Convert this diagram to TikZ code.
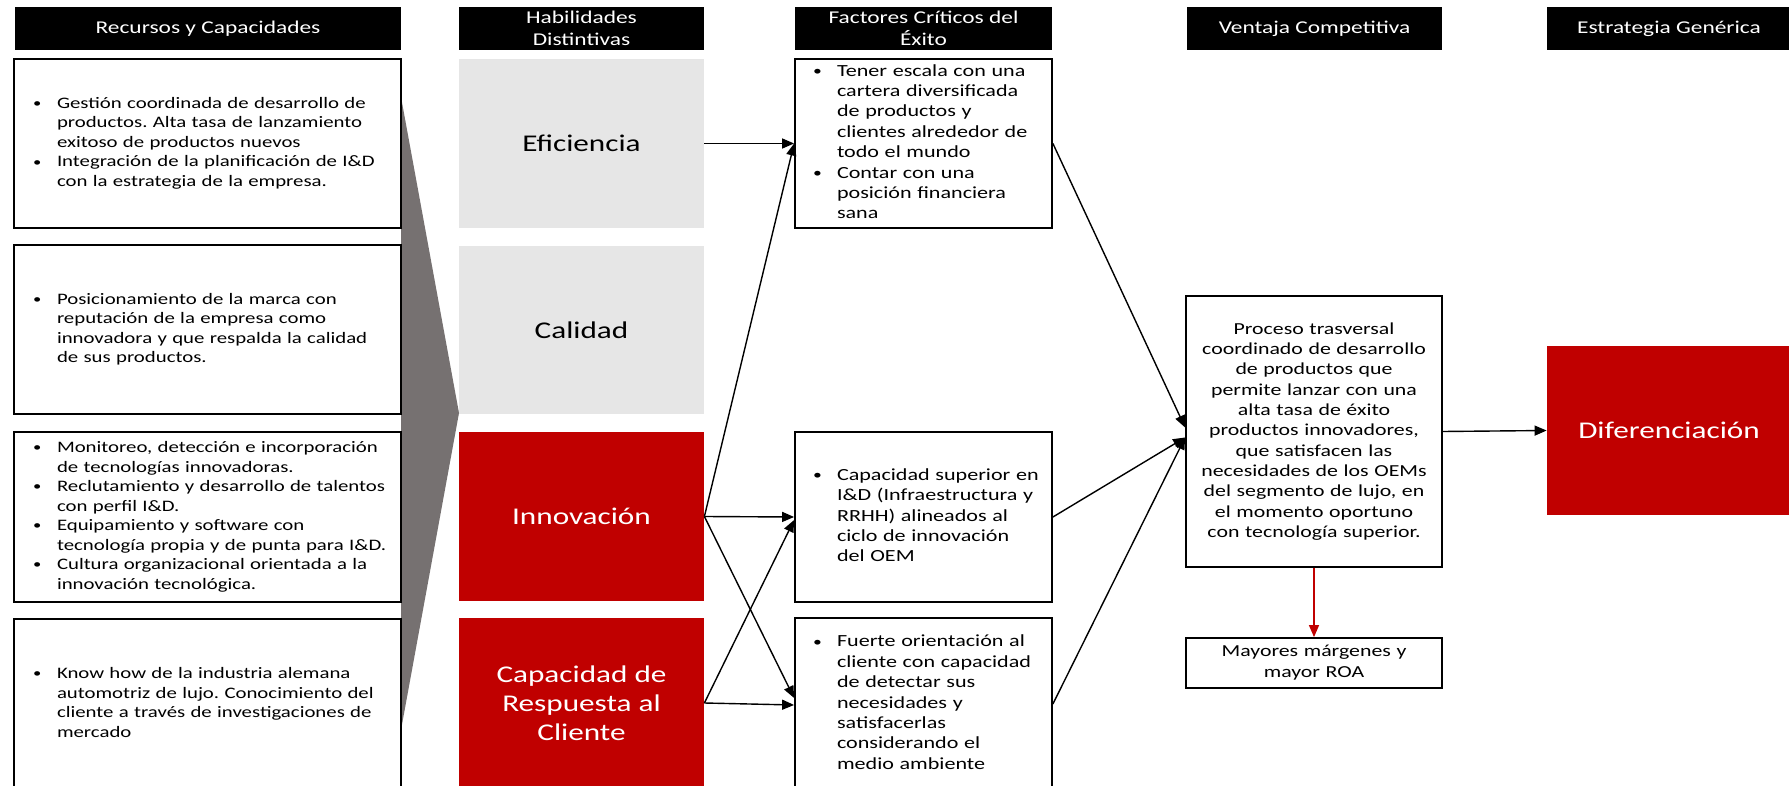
\documentclass[tikz,border=0pt]{standalone}
\usepackage{fontspec}
\setmainfont{Carlito}[FakeStretch=1.3]
\usetikzlibrary{arrows.meta}
\frenchspacing
\definecolor{hdred}{HTML}{C00000}
\definecolor{lightgr}{HTML}{E6E6E6}
\definecolor{darkgr}{HTML}{767171}
% bullets with a fixed hanging column
\newcommand\dotmark{\raisebox{0.1ex}{\scalebox{0.8}{\textbullet}}}
\newcommand\bulA{\makebox[12pt][l]{\dotmark}}

\tikzset{
  header/.style={fill=black, text=white, inner sep=0pt, align=center,
    minimum height=21.5pt, font=\fontsize{9}{11}\selectfont},
  resbox/.style={draw, line width=0.9pt, fill=white, minimum width=193.5pt,
    inner xsep=9.5pt, inner ysep=0pt, text width=174.5pt, align=left,
    font=\fontsize{8}{9.75}\selectfont},
  skill/.style={inner sep=0pt, minimum width=122.5pt, align=center,
    font=\fontsize{12}{14.5}\selectfont},
  greyskill/.style={skill, fill=lightgr, text=black},
  redskill/.style={skill, fill=hdred, text=white},
  factor/.style={draw, line width=0.9pt, fill=white, minimum width=128.5pt,
    inner ysep=0pt, inner xsep=9pt, text width=110.5pt, align=left,
    font=\fontsize{8.5}{10.2}\selectfont},
  plainbox/.style={draw, line width=0.9pt, fill=white, minimum width=128pt,
    inner sep=0pt, align=center},
  conn/.style={draw, line width=0.7pt, -{Triangle[length=6pt,width=5pt]}},
}

\begin{document}
\begin{tikzpicture}[x=0.5pt, y=-0.5pt]
\useasboundingbox (0,0) rectangle (1789,786);
\clip (0,0) rectangle (1789,786);

% column headers
\node[header, minimum width=193pt]   (h1) at (208,28.5)   {Recursos y Capacidades};
\node[header, minimum width=122.5pt] (h2) at (581.5,28.5) {Habilidades\\Distintivas};
\node[header, minimum width=128.5pt] (h3) at (923.5,28.5) {Factores Críticos del\\Éxito};
\node[header, minimum width=127.5pt] (h4) at (1314.5,28.5) {Ventaja Competitiva};
\node[header, minimum width=122pt]   (h5) at (1669,28.5)  {Estrategia Genérica};

% funnel behind the resource boxes
\fill[darkgr] (401,97) -- (459,413) -- (401,730) -- cycle;

% resources and capabilities
\node[resbox, minimum height=84.5pt] (r1) at (207.5,143.5) {%
\begin{tabular}{@{}l@{}l@{}}
\bulA & Gestión coordinada de desarrollo de\\
 & productos. Alta tasa de lanzamiento\\
 & exitoso de productos nuevos\\
\bulA & Integración de la planificación de I\&D\\
 & con la estrategia de la empresa.
\end{tabular}};
\node[resbox, minimum height=84.5pt] (r2) at (207.5,329.5) {%
\begin{tabular}{@{}l@{}l@{}}
\bulA & Posicionamiento de la marca con\\
 & reputación de la empresa como\\
 & innovadora y que respalda la calidad\\
 & de sus productos.
\end{tabular}};
\node[resbox, minimum height=85pt] (r3) at (207.5,517) {%
\begin{tabular}{@{}l@{}l@{}}
\bulA & Monitoreo, detección e incorporación\\
 & de tecnologías innovadoras.\\
\bulA & Reclutamiento y desarrollo de talentos\\
 & con perfil I\&D.\\
\bulA & Equipamiento y software con\\
 & tecnología propia y de punta para I\&D.\\
\bulA & Cultura organizacional orientada a la\\
 & innovación tecnológica.
\end{tabular}};
\node[resbox, minimum height=85pt] (r4) at (207.5,704) {%
\begin{tabular}{@{}l@{}l@{}}
\bulA & Know how de la industria alemana\\
 & automotriz de lujo. Conocimiento del\\
 & cliente a través de investigaciones de\\
 & mercado
\end{tabular}};

% distinctive skills
\node[greyskill, minimum height=84.5pt] (ef) at (581.5,143.5) {Eficiencia};
\node[greyskill, minimum height=84pt]   (ca) at (581.5,330)   {Calidad};
\node[redskill, minimum height=84.5pt]  (in) at (581.5,516.5) {Innovación};
\node[redskill, minimum height=85pt]    (cr) at (581.5,703)   {Capacidad de\\Respuesta al\\Cliente};

% critical success factors
\node[factor, minimum height=84.5pt] (f1) at (923.5,143.5) {%
\begin{tabular}{@{}l@{}l@{}}
\bulA & Tener escala con una\\
 & cartera diversificada\\
 & de productos y\\
 & clientes alrededor de\\
 & todo el mundo\\
\bulA & Contar con una\\
 & posición financiera\\
 & sana
\end{tabular}};
\node[factor, minimum height=85pt] (f2) at (923.5,517) {%
\begin{tabular}{@{}l@{}l@{}}
\bulA & Capacidad superior en\\
 & I\&D (Infraestructura y\\
 & RRHH) alineados al\\
 & ciclo de innovación\\
 & del OEM
\end{tabular}};
\node[factor, minimum height=86pt] (f3) at (923.5,704) {%
\begin{tabular}{@{}l@{}l@{}}
\bulA & Fuerte orientación al\\
 & cliente con capacidad\\
 & de detectar sus\\
 & necesidades y\\
 & satisfacerlas\\
 & considerando el\\
 & medio ambiente
\end{tabular}};

% competitive advantage
\node[plainbox, minimum height=135.5pt, text width=126pt,
  font=\fontsize{8.4}{10.15}\selectfont] (vc) at (1314,431.5) {%
Proceso trasversal\\ coordinado de desarrollo\\ de productos que\\
permite lanzar con una\\ alta tasa de éxito\\ productos innovadores,\\
que satisfacen las\\ necesidades de los OEMs\\ del segmento de lujo, en\\
el momento oportuno\\ con tecnología superior.};
\node[plainbox, minimum height=25pt, text width=126pt,
  font=\fontsize{8.4}{10.5}\selectfont] (mm) at (1314,663) {Mayores márgenes y\\ mayor ROA};

% generic strategy
\node[fill=hdred, text=white, inner sep=0pt, minimum width=122pt, minimum height=84.5pt,
  font=\fontsize{12}{14.5}\selectfont] (dif) at (1669,430.5) {Diferenciación};

% skills to success factors
\draw[conn] (ef.east) -- (f1.west);
\draw[conn] (in.east) -- (f1.west);
\draw[conn] (in.east) -- (f2.west);
\draw[conn] (in.east) -- ([yshift=3pt]f3.west);
\draw[conn] (cr.east) -- ([yshift=-1.5pt]f2.west);
\draw[conn] (cr.east) -- ([yshift=-0.5pt]f3.west);

% success factors to competitive advantage
\draw[conn] (f1.east) -- ([yshift=2pt]vc.west);
\draw[conn] (f2.east) -- ([yshift=-3pt]vc.west);
\draw[conn] (f3.east) -- ([yshift=-3pt]vc.west);

% advantage to strategy and results
\draw[conn] (vc.east) -- (dif.west);
\draw[conn, draw=hdred, color=hdred] (vc.south) -- (mm.north);
\end{tikzpicture}
\end{document}
